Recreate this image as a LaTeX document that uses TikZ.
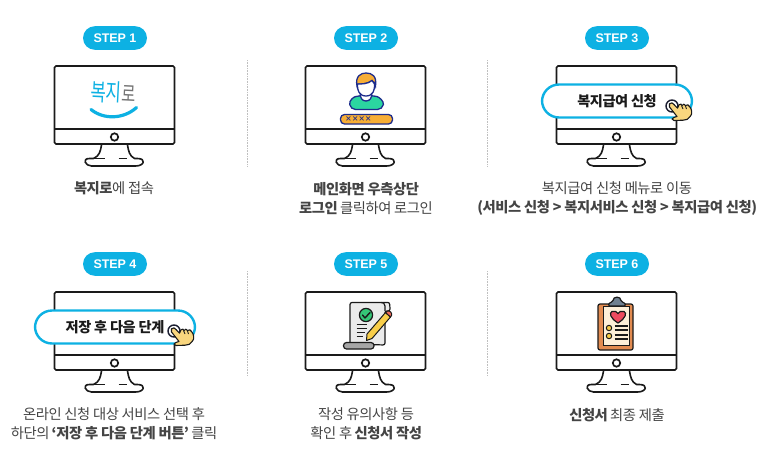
\documentclass[tikz,border=0pt]{standalone}
\usepackage{fontspec}
\setmainfont{Noto Sans CJK KR}[LetterSpace=-3]
\newfontfamily\stepfont{Liberation Sans}[LetterSpace=-1]
\usetikzlibrary{calc}
\definecolor{sky}{HTML}{0DB1E3}
\definecolor{ink}{HTML}{1A1A1A}
\definecolor{txt}{HTML}{444444}
\definecolor{navy}{HTML}{1D2C8C}
\definecolor{amber}{HTML}{F7AE36}
\definecolor{mint}{HTML}{2BD6A0}
\definecolor{skin}{HTML}{F9D67E}
\definecolor{slatec}{HTML}{6F8090}
\definecolor{boardc}{HTML}{E28B50}
\definecolor{paperc}{HTML}{FDEFD8}
\definecolor{heartc}{HTML}{EE4B5F}
\definecolor{pencilc}{HTML}{F8CE4A}
\definecolor{tipc}{HTML}{EE6A5A}
\definecolor{checkc}{HTML}{35C777}
\tikzset{
  x=1pt,y=-1pt,
  steppill/.style={fill=sky,rounded corners=11.8pt,minimum width=64pt,minimum height=23.6pt,inner sep=0pt,text=white,font=\stepfont\fontsize{12.5}{14}\selectfont\bfseries},
  caption/.style={text=txt,font=\fontsize{14.3}{19}\selectfont,align=center,inner sep=0pt},
  divider/.style={draw=black!25,line width=0.6pt,densely dotted},
  bubble/.style={draw=sky,line width=2.4pt,fill=white,rounded corners=17pt,inner sep=0pt,text=ink,font=\fontsize{14.2}{15}\selectfont\bfseries},
  monitor/.pic={
    \draw[ink,line width=1.7pt,rounded corners=1.5pt,fill=white] (0.5,0) rectangle (120.5,78);
    \draw[ink,line width=1.7pt] (0.5,63) -- (120.5,63);
    \draw[ink,line width=1.7pt] (60.5,71) circle (3.7);
    \draw[ink,line width=1.6pt,line join=round,line cap=round]
      (47.5,79) .. controls (46.5,85) and (45.5,90) .. (39.5,92.5) -- (35.5,92.5)
      .. controls (27.5,92.5) and (31.5,100) .. (37.5,100) -- (81.5,100)
      .. controls (90.5,100) and (92.5,92.5) .. (83.5,92.5) -- (80.5,92.5)
      .. controls (75.5,90) and (74.5,85) .. (73.5,79);
    \draw[ink,line width=1.4pt] (39.5,92.5) -- (50.5,92.5) (64.5,92.5) -- (72.5,92.5);
  },
  hand/.pic={
    \draw[navy!20!ink,line width=1.4pt] (0,0) circle (6);
    \draw[ink,line width=1.1pt,fill=skin,line join=round]
      (-2.5,-2.2) .. controls (-1,-4) and (1,-3) .. (2,-1.5) -- (5.5,2.2)
      -- (7,-1.2) .. controls (8,-2.5) and (10,-2) .. (10,-0.5)
      .. controls (11,-2.5) and (13,-2) .. (13.5,-0.5)
      .. controls (15,-2) and (17,-1) .. (17.5,0.5)
      .. controls (20,3) and (20.5,8) .. (18.5,10)
      .. controls (17,13) and (14,14.5) .. (11,14.2)
      -- (2,14.5) -- (0,13) .. controls (1,11.5) and (3,11) .. (5,10.5)
      -- (-2.5,1) .. controls (-3,0) and (-3,-1) .. (-2.5,-2.2) -- cycle;
    \draw[ink,line width=0.9pt] (9.5,-0.5) -- (11,3) (13.3,-0.5) -- (14.5,3);
  },
}
\begin{document}
\begin{tikzpicture}
\useasboundingbox (0,0) rectangle (763,450);
\fill[white] (0,0) rectangle (763,450);
% dividers
\coordinate (d1a) at (247,60); \coordinate (d1b) at (247,166);
\coordinate (d2a) at (487,60); \coordinate (d2b) at (487,166);
\coordinate (d3a) at (247,271); \coordinate (d3b) at (247,376);
\coordinate (d4a) at (487,271); \coordinate (d4b) at (487,376);
\draw[divider] (d1a) -- (d1b);
\draw[divider] (d2a) -- (d2b);
\draw[divider] (d3a) -- (d3b);
\draw[divider] (d4a) -- (d4b);
% step pills
\node[steppill] (s1) at (115,38) {STEP 1};
\node[steppill] (s2) at (366,38) {STEP 2};
\node[steppill] (s3) at (617,38) {STEP 3};
\node[steppill] (s4) at (115,264) {STEP 4};
\node[steppill] (s5) at (366,264) {STEP 5};
\node[steppill] (s6) at (617,264) {STEP 6};
% monitors
\pic at (54,66) {monitor};
\pic at (305,66) {monitor};
\pic at (556,66) {monitor};
\pic at (54,292) {monitor};
\pic at (305,292) {monitor};
\pic at (556,292) {monitor};
% step 1 logo
\node[inner sep=0pt,rotate=-3,font=\fontsize{21}{24}\selectfont] (logo) at (113.5,92.5) {\scalebox{0.8}[1.12]{\textcolor{sky}{복지}\textcolor{black!55}{\fontsize{19}{20}\selectfont 로}}};
\draw[sky,line width=3.2pt,line cap=round] (91,109.5) .. controls (104,120) and (124,119) .. (136.5,107.5);
% step 2 person
\draw[navy,line width=1.3pt,fill=mint,rounded corners=5pt] (350.5,109.5) .. controls (349,100) and (354,97) .. (360,95.5) -- (372,95.5) .. controls (379,97) and (384,101) .. (382.5,109.5) -- cycle;
\draw[navy,line width=1.3pt,fill=white] (360,92) .. controls (360,98) and (362,101) .. (366,101) .. controls (370,101) and (372,98) .. (372,92) -- cycle;
\draw[navy,line width=1.3pt,fill=amber] (357,86) .. controls (355,76) and (361,73) .. (366,73) .. controls (372,73) and (377,76) .. (375.5,86) .. controls (375,84) and (374,81) .. (372,80.5) .. controls (368,84) and (362,84) .. (358.5,84) -- cycle;
\draw[navy,line width=1.3pt,fill=white] (357.5,84) .. controls (357,90) and (359,96) .. (366,96) .. controls (373,96) and (375,90) .. (374.5,84) .. controls (373,82) and (372.5,81) .. (372,80.5) .. controls (368,84) and (362,84) .. (357.5,84) -- cycle;
\draw[navy,line width=1.3pt,fill=amber,rounded corners=4pt] (340.5,114.5) rectangle (392.5,124);
\node[text=navy,inner sep=0pt,font=\fontsize{6.8}{9}\selectfont\bfseries] (pw) at (358.5,119.3) {××××};
% step 3 bubble
\node[bubble,minimum width=150pt,minimum height=33pt] (b3) at (617,101) {복지급여 신청};
\pic at (672,106) {hand};
% step 4 bubble
\node[bubble,minimum width=160pt,minimum height=33pt] (b4) at (115,327) {저장 후 다음 단계};
\pic at (174,331) {hand};
% step 5 document
\draw[ink,line width=1.2pt,fill=black!8,rounded corners=2pt] (350,344) -- (350,302.5) -- (386,302.5) .. controls (390,302.5) and (390,306) .. (390,311) -- (385,311) -- (385,345) -- cycle;
\draw[ink,line width=1.2pt] (385,311) -- (385,306) .. controls (385,303) and (383,302.5) .. (381,302.5);
\draw[ink,line width=1.2pt,fill=black!35,rounded corners=3pt] (343.5,349) rectangle (374,342.5);
\draw[ink,line width=1.2pt,fill=checkc] (366,315) circle (6.6);
\draw[ink,line width=1.4pt,line cap=round,line join=round] (362.5,315) -- (365,318) -- (370,312.5);
\draw[ink,line width=1.1pt] (356.5,324.5) -- (367,324.5) (356.5,328.5) -- (367,328.5) (356.5,332.5) -- (365,332.5) (356.5,336.5) -- (363,336.5);
\draw[ink,line width=1pt,fill=pencilc,line join=round] (367,334) -- (385.5,312.5) -- (390.5,317) -- (372,338.5) -- (366.5,340.5) -- cycle;
\draw[ink,line width=1pt,fill=tipc] (385.5,312.5) -- (387.5,311) .. controls (390,310) and (392.5,313.5) .. (391.5,315.5) -- (390.5,317) -- cycle;
% step 6 clipboard
\draw[ink,line width=1.2pt,fill=boardc,rounded corners=2pt] (598,304) rectangle (633,350);
\draw[ink,line width=1pt,fill=paperc] (603,306) rectangle (629,345);
\draw[ink,line width=1.2pt,fill=slatec,rounded corners=1.5pt] (608,306) -- (610,302) -- (613,302) .. controls (613,296) and (621,296) .. (621,302) -- (624,302) -- (626,306) -- cycle;
\draw[ink,line width=1.2pt,fill=heartc] (618,323) .. controls (610,318) and (609,313) .. (612,311.5) .. controls (614.5,310.5) and (617,311.5) .. (618,313.5) .. controls (619,311.5) and (621.5,310.5) .. (624,311.5) .. controls (627,313) and (626,318) .. (618,323) -- cycle;
\draw[ink,line width=1pt,fill=pencilc] (609,328) circle (2.7);
\draw[ink,line width=1pt,fill=pencilc] (609,336) circle (2.7);
\draw[ink,line width=1.1pt] (614.5,326) -- (628,326) (614.5,330) -- (628,330) (614.5,335) -- (628,335) (614.5,339) -- (628,339);
% captions
\node[caption] (c1) at (114,188.5) {\textbf{복지로}에 접속};
\node[caption] (c2) at (366,198.5) {\textbf{메인화면 우측상단}\\\textbf{로그인} 클릭하여 로그인};
\node[caption] (c3) at (617,198.5) {복지급여 신청 메뉴로 이동\\\textbf{(서비스 신청 > 복지서비스 신청 > 복지급여 신청)}};
\node[caption] (c4) at (114,423.5) {온라인 신청 대상 서비스 선택 후\\하단의 \textbf{‘저장 후 다음 단계 버튼’} 클릭};
\node[caption] (c5) at (366,423.5) {작성 유의사항 등\\확인 후 \textbf{신청서 작성}};
\node[caption] (c6) at (617,415.5) {\textbf{신청서} 최종 제출};
\end{tikzpicture}
\end{document}
